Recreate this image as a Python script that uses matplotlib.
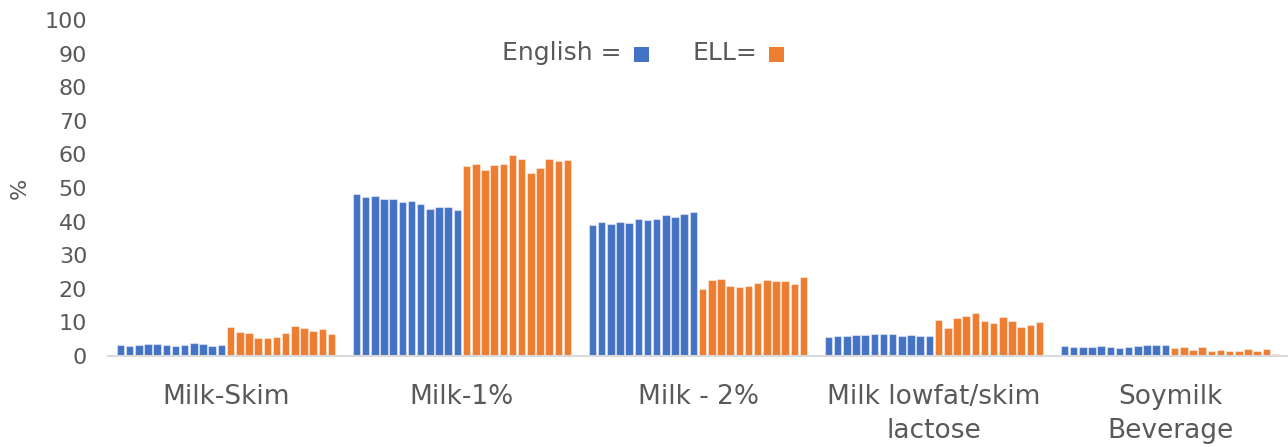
import matplotlib
matplotlib.use("Agg")
import matplotlib.pyplot as plt
from matplotlib.patches import Rectangle
import numpy as np

plt.rcParams['font.family'] = ['DejaVu Sans']

categories = ["Milk-Skim", "Milk-1%", "Milk - 2%", "Milk lowfat/skim\nlactose", "Soymilk\nBeverage"]

english = [
    [3.3, 3.1, 3.3, 3.5, 3.6, 3.3, 3.0, 3.3, 3.8, 3.6, 2.9, 3.3],
    [48.2, 47.2, 47.5, 46.7, 46.7, 45.8, 46.2, 45.2, 43.8, 44.4, 44.4, 43.5],
    [39.0, 39.8, 39.3, 40.0, 39.5, 40.7, 40.5, 40.9, 42.1, 41.4, 42.2, 42.8],
    [5.7, 6.0, 5.9, 6.2, 6.2, 6.5, 6.5, 6.5, 6.0, 6.3, 6.0, 6.0],
    [3.0, 2.8, 2.8, 2.7, 3.0, 2.6, 2.5, 2.8, 3.1, 3.3, 3.4, 3.3],
]
ell = [
    [8.6, 7.1, 6.7, 5.3, 5.3, 5.7, 6.7, 8.8, 8.3, 7.5, 7.9, 6.5],
    [56.5, 57.0, 55.4, 56.8, 57.1, 59.8, 58.5, 54.4, 55.9, 58.6, 58.0, 58.4],
    [19.9, 22.5, 22.8, 20.7, 20.4, 20.7, 21.8, 22.5, 22.2, 22.4, 21.4, 23.5],
    [10.6, 8.4, 11.3, 11.9, 12.9, 10.4, 9.8, 11.6, 10.3, 8.5, 9.2, 10.0],
    [2.3, 2.7, 1.8, 2.6, 1.5, 1.8, 1.5, 1.5, 2.0, 1.4, 2.0, 0.5],
]
yticks = list(range(0, 101, 10))

BLUE = "#4472C4"
ORANGE = "#ED7D31"
TXT = "#595959"

W, H = 1288, 447
fig = plt.figure(figsize=(W / 100, H / 100), dpi=100)
ax = fig.add_axes([108/W, 91/H, 1180/W, 336/H])

slot = 0.0389
bw = slot * 0.82
for i in range(len(categories)):
    vals = english[i] + ell[i]
    cols = [BLUE] * len(english[i]) + [ORANGE] * len(ell[i])
    n = len(vals)
    xs = i + (np.arange(n) - (n - 1) / 2) * slot
    ax.bar(xs, vals, width=bw, color=cols, edgecolor=(1, 1, 1, 0.45), linewidth=0.8, zorder=2)

ax.set_xlim(-0.5, len(categories) - 0.5)
ax.set_ylim(0, 100)
ax.set_yticks(yticks)
ax.set_yticklabels([str(t) for t in yticks], fontsize=16, color=TXT)
ax.set_xticks(range(len(categories)))
ax.set_xticklabels(categories, fontsize=19, color=TXT, linespacing=1.4)
ax.tick_params(axis='both', length=0)
ax.tick_params(axis='y', pad=15)
ax.tick_params(axis='x', pad=20)
for s in ['top', 'right', 'left']:
    ax.spines[s].set_visible(False)
ax.spines['bottom'].set_color('#D9D9D9')
ax.spines['bottom'].set_linewidth(1.5)
ax.set_ylabel('%', fontsize=16, color=TXT, labelpad=11)

# legend text with colour squares
fig.text(502/W, 1 - 53/H, "English =", fontsize=18, color=TXT, va='center', ha='left')
fig.text(693/W, 1 - 53/H, "ELL=", fontsize=18, color=TXT, va='center', ha='left')
fig.patches.append(Rectangle((634/W, 1 - 62/H), 15/W, 15/H, transform=fig.transFigure,
                             facecolor=BLUE, edgecolor='none'))
fig.patches.append(Rectangle((769/W, 1 - 62/H), 15/W, 15/H, transform=fig.transFigure,
                             facecolor=ORANGE, edgecolor='none'))

fig.savefig("out.png", dpi=100)
